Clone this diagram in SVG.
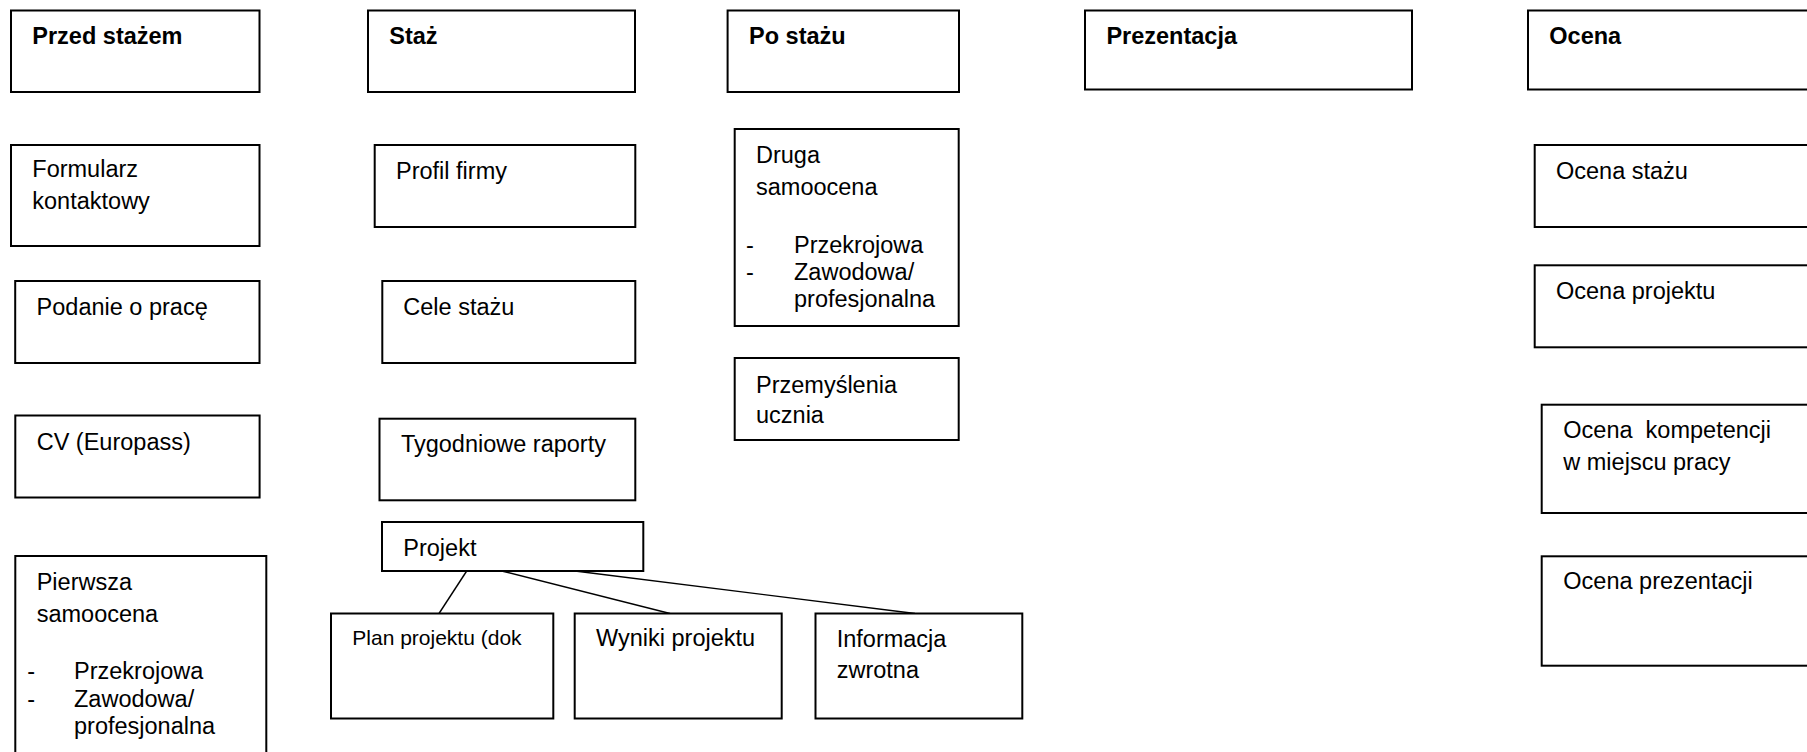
<svg xmlns="http://www.w3.org/2000/svg" width="1807" height="752" viewBox="0 0 1807 752">
<style>
rect.box{fill:#fff;stroke:#000;stroke-width:2}
text{font-family:"Liberation Sans",Arial,sans-serif;font-size:23.5px;fill:#000}
text.h{font-weight:bold}
text.s{font-size:21px}
.conn line{stroke:#000;stroke-width:1.4}
</style>
<rect width="1807" height="752" fill="#fff"/>
<g class="conn" id="connectors">
<line x1="466.7" y1="571" x2="439" y2="613.5"/>
<line x1="501.7" y1="571" x2="670" y2="613.5"/>
<line x1="575" y1="571" x2="915" y2="613.5"/>
</g>
<g id="przed-stazem"><rect class="box" x="11" y="10.5" width="248.5" height="81.5"/><text class="h" x="32.3" y="44">Przed stażem</text></g>
<g id="staz"><rect class="box" x="368" y="10.5" width="267" height="81.5"/><text class="h" x="389.3" y="44">Staż</text></g>
<g id="po-stazu"><rect class="box" x="727.6" y="10.5" width="231.4" height="81.5"/><text class="h" x="749" y="44">Po stażu</text></g>
<g id="prezentacja"><rect class="box" x="1085" y="10.5" width="327" height="79"/><text class="h" x="1106.4" y="44">Prezentacja</text></g>
<g id="ocena"><rect class="box" x="1528" y="10.5" width="300" height="79"/><text class="h" x="1549.3" y="44">Ocena</text></g>

<g id="formularz"><rect class="box" x="11" y="145" width="248.5" height="101"/><text x="32.3" y="177.3">Formularz</text><text x="32.3" y="209.3">kontaktowy</text></g>
<g id="podanie"><rect class="box" x="15.2" y="281" width="244.3" height="82"/><text x="36.6" y="314.5">Podanie o pracę</text></g>
<g id="cv"><rect class="box" x="15.3" y="415.5" width="244.3" height="82"/><text x="36.7" y="450">CV (Europass)</text></g>
<g id="pierwsza"><rect class="box" x="15.3" y="556" width="251" height="220"/>
<text x="36.7" y="590">Pierwsza</text><text x="36.7" y="621.7">samoocena</text>
<text x="27.3" y="679.3">-</text><text x="74" y="679.3">Przekrojowa</text>
<text x="27.3" y="706.7">-</text><text x="74" y="706.7">Zawodowa/</text>
<text x="74" y="734.3">profesjonalna</text></g>

<g id="profil"><rect class="box" x="374.7" y="145" width="260.6" height="82"/><text x="396" y="179.3">Profil firmy</text></g>
<g id="cele"><rect class="box" x="382.3" y="281" width="253" height="82"/><text x="403.3" y="315">Cele stażu</text></g>
<g id="tygodniowe"><rect class="box" x="379.5" y="418.7" width="255.8" height="81.6"/><text x="400.9" y="452">Tygodniowe raporty</text></g>
<g id="projekt"><rect class="box" x="382" y="522" width="261.3" height="49"/><text x="403.3" y="556">Projekt</text></g>
<g id="plan"><rect class="box" x="331" y="613.5" width="222.3" height="105"/><text class="s" x="352.3" y="645">Plan projektu (dok</text></g>
<g id="wyniki"><rect class="box" x="574.7" y="613.5" width="207" height="105"/><text x="596" y="646">Wyniki projektu</text></g>
<g id="informacja"><rect class="box" x="815.5" y="613.5" width="206.8" height="105"/><text x="836.7" y="646.7">Informacja</text><text x="836.7" y="678.3">zwrotna</text></g>

<g id="druga"><rect class="box" x="734.7" y="129" width="224" height="197"/>
<text x="756" y="163.3">Druga</text><text x="756" y="195">samoocena</text>
<text x="746" y="252.7">-</text><text x="794" y="252.7">Przekrojowa</text>
<text x="746" y="280">-</text><text x="794" y="280">Zawodowa/</text>
<text x="794" y="307.3">profesjonalna</text></g>
<g id="przemyslenia"><rect class="box" x="734.7" y="358" width="224" height="82"/><text x="756" y="392.7">Przemyślenia</text><text x="756" y="423.3">ucznia</text></g>

<g id="ocena-stazu"><rect class="box" x="1534.7" y="145" width="300" height="82"/><text x="1556" y="179.3">Ocena stażu</text></g>
<g id="ocena-projektu"><rect class="box" x="1534.7" y="265.3" width="300" height="82"/><text x="1556" y="299">Ocena projektu</text></g>
<g id="ocena-kompetencji"><rect class="box" x="1541.7" y="404.7" width="300" height="108.3"/><text x="1563.3" y="438.3" style="white-space:pre">Ocena  kompetencji</text><text x="1563.3" y="470.3">w miejscu pracy</text></g>
<g id="ocena-prezentacji"><rect class="box" x="1541.7" y="556.3" width="300" height="109.4"/><text x="1563.3" y="589.3">Ocena prezentacji</text></g>
</svg>
